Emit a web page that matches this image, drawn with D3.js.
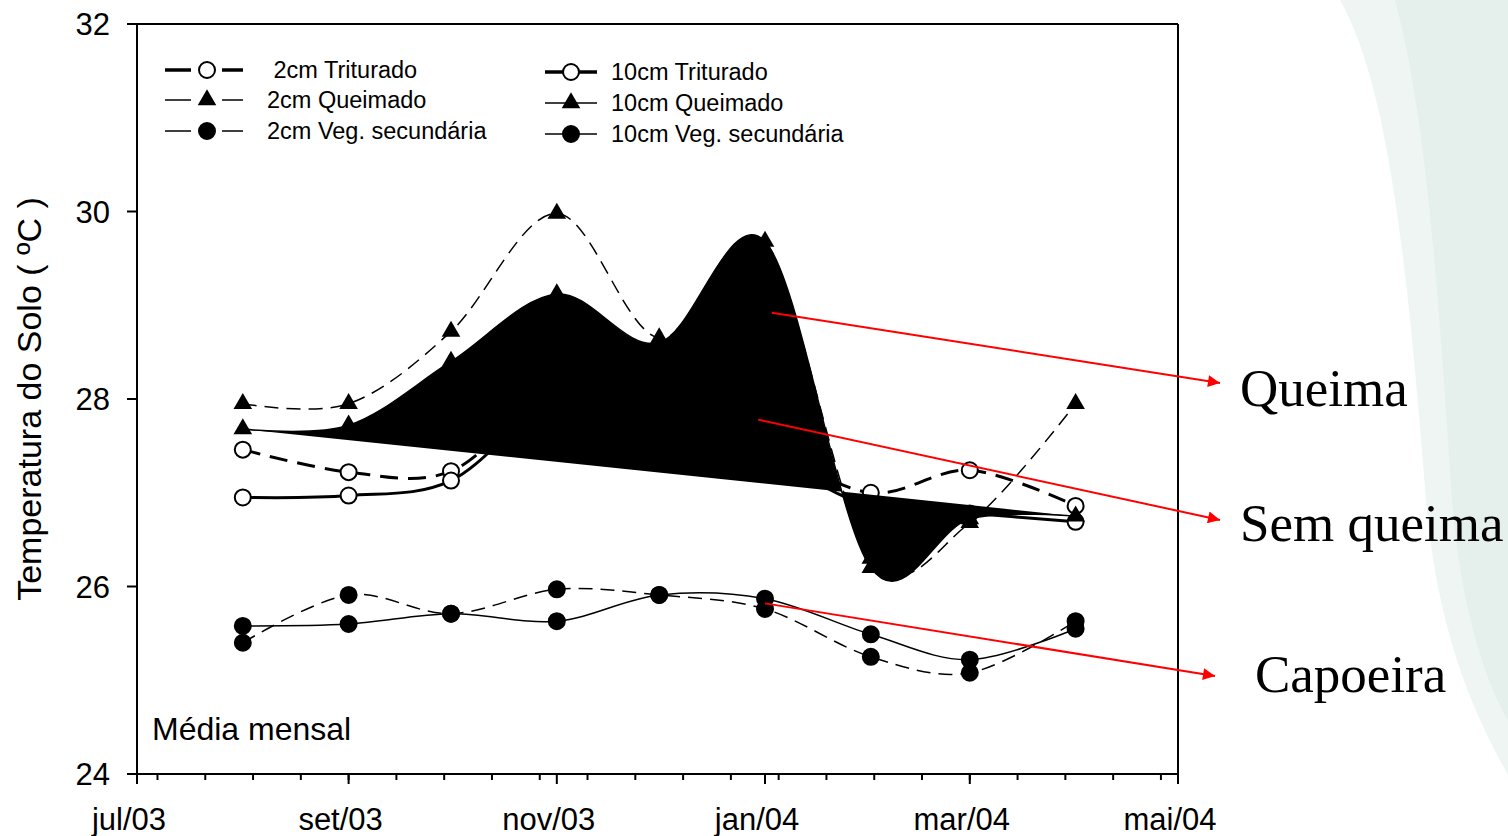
<!DOCTYPE html>
<html>
<head>
<meta charset="utf-8">
<script src="https://cdn.jsdelivr.net/npm/d3@7"></script>
<style>
  body { margin: 0; background: #fff; }
  svg { display: block; }
</style>
</head>
<body>
<svg id="chart" width="1508" height="836"></svg>
<script>
// dati (medie mensili)
const months = ['2003-08-01', '2003-09-01', '2003-10-01', '2003-11-01', '2003-12-01', '2004-01-01', '2004-02-01', '2004-03-01', '2004-04-01']
const tri2 = [27.46, 27.22, 27.23, 28.1, 28.0, 27.5, 27.0, 27.24, 26.86]
const tri10 = [26.95, 26.97, 27.13, 28.0, 27.9, 27.4, 26.85, 26.78, 26.69]
const que2 = [27.95, 27.95, 28.72, 29.98, 28.65, 29.6, 26.3, 26.68, 27.95]
const que10 = [27.68, 27.72, 28.4, 29.12, 28.6, 29.68, 26.2, 26.72, 26.75]
const veg2 = [25.40, 25.91, 25.71, 25.97, 25.91, 25.76, 25.25, 25.08, 25.63]
const veg10 = [25.58, 25.60, 25.71, 25.63, 25.91, 25.87, 25.49, 25.22, 25.55]

const yTicks = [24, 26, 28, 30, 32]
const xTickLabels = ['jul/03', 'set/03', 'nov/03', 'jan/04', 'mar/04', 'mai/04']

const svg = d3.select('#chart')
const parse = d3.timeParse('%Y-%m-%d')
const dates = months.map(parse)

const plotLeft = 137, plotRight = 1178, plotTop = 24, plotBottom = 774

const xScale = d3.scaleTime()
  .domain([new Date(2003, 6, 1), new Date(2004, 4, 1)])
  .range([plotLeft, plotRight])

const yScale = d3.scaleLinear()
  .domain([24, 32])
  .range([plotBottom, plotTop])

// sfondo verde chiaro a destra (slide)
svg.append('path')
  .attr('d', 'M1340,0 C1392,90 1410,300 1426,500 C1438,640 1478,720 1508,775 L1508,0 Z')
  .attr('fill', '#eef5f2')
svg.append('path')
  .attr('d', 'M1395,0 C1428,120 1440,320 1452,500 C1462,620 1490,690 1508,720 L1508,0 Z')
  .attr('fill', '#e5efec')

const line = d3.line()
  .x((d, i) => xScale(dates[i]))
  .y(d => yScale(d))
  .curve(d3.curveCardinal.tension(0))

function series(values, dash, width) {
  svg.append('path')
    .datum(values)
    .attr('d', line)
    .attr('fill', 'none')
    .attr('stroke', 'black')
    .attr('stroke-width', width)
    .attr('stroke-dasharray', dash)
}

function circles(values, fill) {
  svg.append('g').selectAll('circle')
    .data(values)
    .join('circle')
    .attr('cx', (d, i) => xScale(dates[i]))
    .attr('cy', d => yScale(d))
    .attr('r', 8)
    .attr('fill', fill)
    .attr('stroke', 'black')
    .attr('stroke-width', 2)
}

const tri = d3.symbol().type(d3.symbolTriangle).size(150)
function triangles(values) {
  svg.append('g').selectAll('path')
    .data(values)
    .join('path')
    .attr('d', tri)
    .attr('transform', (d, i) => `translate(${xScale(dates[i])},${yScale(d)})`)
    .attr('fill', 'black')
}

// linee triturado e 2cm queimado
series(tri2, '18,10', 3)
series(tri10, null, 3)
series(que2, '14,8', 1.5)
circles(tri2, 'white')
circles(tri10, 'white')
triangles(que2)

// 10cm queimado: area nera (curva chiusa)
svg.append('path')
  .datum(que10)
  .attr('d', line)
  .attr('fill', 'black')
  .attr('stroke', 'black')
  .attr('stroke-width', 1.5)
triangles(que10)

// vegetazione secondaria
series(veg2, '14,8', 1.5)
series(veg10, null, 1.5)
circles(veg2, 'black')
circles(veg10, 'black')

// assi
const axisG = svg.append('g').attr('stroke', 'black').attr('stroke-width', 2)
axisG.append('line').attr('x1', plotLeft).attr('x2', plotRight).attr('y1', plotBottom).attr('y2', plotBottom)
axisG.append('line').attr('x1', plotLeft).attr('x2', plotRight).attr('y1', plotTop).attr('y2', plotTop)
axisG.append('line').attr('x1', plotLeft).attr('x2', plotLeft).attr('y1', plotTop).attr('y2', plotBottom)
axisG.append('line').attr('x1', plotRight).attr('x2', plotRight).attr('y1', plotTop).attr('y2', plotBottom)

const majorX = d3.timeMonth.every(2).range(new Date(2003, 6, 1), new Date(2004, 4, 2))
const minorX = d3.timeDay.range(new Date(2003, 6, 7), new Date(2004, 4, 1)).filter((d, i) => i % 14 === 0)

axisG.append('g').selectAll('line')
  .data(minorX)
  .join('line')
  .attr('x1', d => xScale(d)).attr('x2', d => xScale(d))
  .attr('y1', plotBottom).attr('y2', plotBottom + 6)

axisG.append('g').selectAll('line')
  .data(majorX)
  .join('line')
  .attr('x1', d => xScale(d)).attr('x2', d => xScale(d))
  .attr('y1', plotBottom).attr('y2', plotBottom + 10)

axisG.append('g').selectAll('line')
  .data(yTicks)
  .join('line')
  .attr('x1', plotLeft - 10).attr('x2', plotLeft)
  .attr('y1', d => yScale(d)).attr('y2', d => yScale(d))

const font = 'Liberation Sans, Arial, sans-serif'

svg.append('g').selectAll('text')
  .data(majorX)
  .join('text')
  .attr('x', d => xScale(d) - 8)
  .attr('y', 830)
  .attr('text-anchor', 'middle')
  .style('font-family', font)
  .style('font-size', '31px')
  .text((d, i) => xTickLabels[i])

svg.append('g').selectAll('text')
  .data(yTicks)
  .join('text')
  .attr('x', plotLeft - 27)
  .attr('y', d => yScale(d) + 11)
  .attr('text-anchor', 'end')
  .style('font-family', font)
  .style('font-size', '31px')
  .text(d => d)

svg.append('text')
  .attr('transform', `translate(41, 399) rotate(-90)`)
  .attr('text-anchor', 'middle')
  .style('font-family', font)
  .style('font-size', '34px')
  .text('Temperatura do Solo ( ºC )')

svg.append('text')
  .attr('x', 152)
  .attr('y', 740)
  .style('font-family', font)
  .style('font-size', '32px')
  .text('Média mensal')

// legenda
const legendLeft = [
  { label: ' 2cm Triturado', marker: 'open', width: 3.5, y: 70 },
  { label: '2cm Queimado', marker: 'tri', width: 1.5, y: 100 },
  { label: '2cm Veg. secundária', marker: 'dot', width: 1.5, y: 131 }
]
const legendRight = [
  { label: '10cm Triturado', marker: 'open', width: 3.5, y: 72 },
  { label: '10cm Queimado', marker: 'tri', width: 1.5, y: 103 },
  { label: '10cm Veg. secundária', marker: 'dot', width: 1.5, y: 134 }
]

function marker(g, kind, x, y) {
  if (kind === 'tri') {
    g.append('path').attr('d', tri).attr('transform', `translate(${x},${y})`).attr('fill', 'black')
  } else {
    g.append('circle').attr('cx', x).attr('cy', y).attr('r', 8)
      .attr('fill', kind === 'open' ? 'white' : 'black')
      .attr('stroke', 'black').attr('stroke-width', 2)
  }
}

const legG = svg.append('g')
legendLeft.forEach(d => {
  legG.append('line').attr('x1', 165).attr('x2', 191).attr('y1', d.y).attr('y2', d.y)
    .attr('stroke', 'black').attr('stroke-width', d.width)
  legG.append('line').attr('x1', 222).attr('x2', 243).attr('y1', d.y).attr('y2', d.y)
    .attr('stroke', 'black').attr('stroke-width', d.width)
  marker(legG, d.marker, 207, d.y)
  legG.append('text').attr('x', 267).attr('y', d.y + 8)
    .style('font-family', font).style('font-size', '23.5px')
    .style('white-space', 'pre')
    .text(d.label)
})
legendRight.forEach(d => {
  legG.append('line').attr('x1', 545).attr('x2', 597).attr('y1', d.y).attr('y2', d.y)
    .attr('stroke', 'black').attr('stroke-width', d.width)
  marker(legG, d.marker, 571, d.y)
  legG.append('text').attr('x', 611).attr('y', d.y + 8)
    .style('font-family', font).style('font-size', '23.5px')
    .text(d.label)
})

// frecce rosse e testi
const notes = [
  { label: 'Queima', from: [new Date(2004, 0, 3), 28.92], to: [1220, 383], tx: 1240, ty: 406 },
  { label: 'Sem queima', from: [new Date(2003, 11, 30), 27.78], to: [1220, 520], tx: 1240, ty: 541 },
  { label: 'Capoeira', from: [new Date(2004, 0, 1), 25.82], to: [1215, 676], tx: 1255, ty: 692 }
]

svg.append('defs').append('marker')
  .attr('id', 'arrow')
  .attr('viewBox', '0 -5 10 10')
  .attr('refX', 10)
  .attr('refY', 0)
  .attr('markerWidth', 16)
  .attr('markerHeight', 12)
  .attr('markerUnits', 'userSpaceOnUse')
  .attr('orient', 'auto')
  .append('path')
  .attr('d', 'M0,-5L10,0L0,5Z')
  .attr('fill', 'red')

notes.forEach(n => {
  svg.append('line')
    .attr('x1', xScale(n.from[0])).attr('y1', yScale(n.from[1]))
    .attr('x2', n.to[0]).attr('y2', n.to[1])
    .attr('stroke', 'red').attr('stroke-width', 2)
    .attr('marker-end', 'url(#arrow)')
  svg.append('text')
    .attr('x', n.tx).attr('y', n.ty)
    .style('font-family', 'Liberation Serif, Times New Roman, serif')
    .style('font-size', '53px')
    .text(n.label)
})
</script>
</body>
</html>
